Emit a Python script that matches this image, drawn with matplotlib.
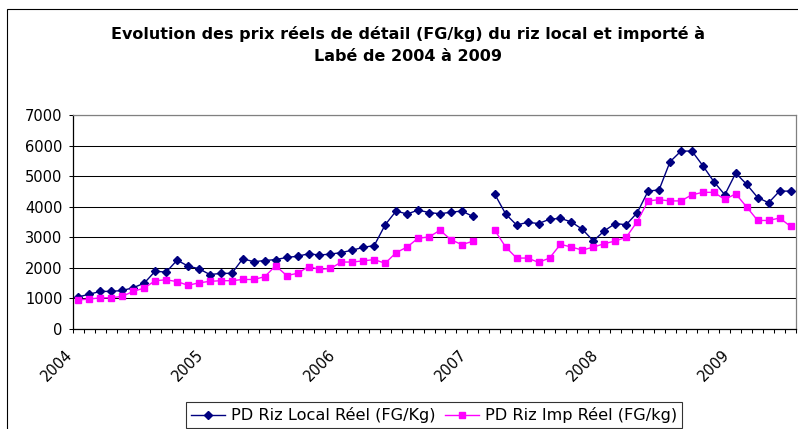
import numpy as np
import matplotlib.pyplot as plt
import matplotlib.transforms as mtransforms
from matplotlib.patches import Rectangle

# the original Excel chart is stretched horizontally, DejaVu's wide glyphs fit it best
plt.rcParams['font.family'] = ['DejaVu Sans']

# monthly real retail prices, Jan 2004 -> Jun 2009 (one month missing in 2007)
local_prices = [1050, 1140, 1230, 1230, 1260, 1350, 1500, 1890, 1860, 2250,
                2060, 1970, 1780, 1820, 1820, 2300, 2200, 2240, 2270, 2340,
                2380, 2460, 2420, 2450, 2500, 2580, 2670, 2730, 3410, 3860,
                3760, 3890, 3810, 3770, 3820, 3860, 3680, np.nan, 4410, 3760,
                3400, 3490, 3450, 3590, 3620, 3500, 3260, 2880, 3210, 3450,
                3410, 3800, 4510, 4550, 5470, 5820, 5820, 5340, 4820, 4390,
                5100, 4730, 4300, 4130, 4510, 4510]
imp_prices = [950, 980, 1020, 1020, 1070, 1230, 1340, 1580, 1610, 1550,
              1430, 1510, 1560, 1580, 1580, 1620, 1620, 1710, 2070, 1750,
              1820, 2040, 1950, 1980, 2190, 2190, 2230, 2270, 2150, 2500,
              2680, 2970, 3010, 3230, 2920, 2760, 2870, np.nan, 3230, 2680,
              2320, 2320, 2180, 2320, 2770, 2680, 2580, 2680, 2790, 2880,
              3000, 3510, 4190, 4230, 4190, 4190, 4390, 4470, 4470, 4240,
              4420, 3990, 3550, 3550, 3630, 3360]
years = ['2004', '2005', '2006', '2007', '2008', '2009']
y_ticks = [0, 1000, 2000, 3000, 4000, 5000, 6000, 7000]

W, H = 798, 429
fig = plt.figure(figsize=(W / 100, H / 100), dpi=100)
fig.patch.set_facecolor('white')

# outer chart frame (cut off at right and bottom like the original)
fig.add_artist(Rectangle((7 / W, -0.2), 1.2, 1.2 - 9 / H,
                         transform=fig.transFigure, fill=False,
                         edgecolor='black', linewidth=0.8))

ax = fig.add_axes([73 / W, 1 - 329 / H, (796 - 73) / W, (329 - 115) / H])

n = len(local_prices)
x = np.arange(n)
ax.plot(x, local_prices, color='#000080', linewidth=1.0, marker='D',
        markersize=4.0, label='PD Riz Local Réel (FG/Kg)')
ax.plot(x, imp_prices, color='#FF00FF', linewidth=1.0, marker='s',
        markersize=4.9, label='PD Riz Imp Réel (FG/kg)')

ax.set_xlim(-0.5, n - 0.5)
ax.set_ylim(0, 7000)
ax.set_yticks(y_ticks)
ax.set_yticklabels([str(v) for v in y_ticks], fontsize=10.5)
ax.grid(axis='y', color='black', linewidth=0.75)
ax.set_axisbelow(True)

ax.set_xticks([-0.5 + 12 * i for i in range(len(years))])
ax.set_xticklabels(years, rotation=45, ha='right', va='center',
                   rotation_mode='anchor', fontsize=10.5)
ax.set_xticks(np.arange(-0.5, n, 1), minor=True)
ax.tick_params(axis='x', which='both', length=3, width=0.75, color='black',
               direction='out', pad=14)
ax.tick_params(axis='y', length=3, width=0.75, pad=4.5)
shift = mtransforms.ScaledTranslation(-3 / 100, 0, fig.dpi_scale_trans)
for lab in ax.get_xticklabels():
    lab.set_transform(lab.get_transform() + shift)

for side in ['left', 'bottom']:
    ax.spines[side].set_color('black')
    ax.spines[side].set_linewidth(0.9)
for side in ['top', 'right']:
    ax.spines[side].set_color('#808080')
    ax.spines[side].set_linewidth(0.9)

fig.text(408 / W, 1 - 26 / H,
         'Evolution des prix réels de détail (FG/kg) du riz local et importé à\nLabé de 2004 à 2009',
         ha='center', va='top', fontsize=11.5, fontweight='bold',
         linespacing=1.6)

leg = ax.legend(loc='upper center', bbox_to_anchor=(434 / W, 1 - 402 / H),
                bbox_transform=fig.transFigure, ncol=2, frameon=True,
                fancybox=False, fontsize=11.6, handlelength=2.1,
                handletextpad=0.37, columnspacing=0.57, borderpad=0.32,
                borderaxespad=0)
leg.get_frame().set_edgecolor('black')
leg.get_frame().set_linewidth(0.8)

fig.savefig('out.png', dpi=100, facecolor='white')
